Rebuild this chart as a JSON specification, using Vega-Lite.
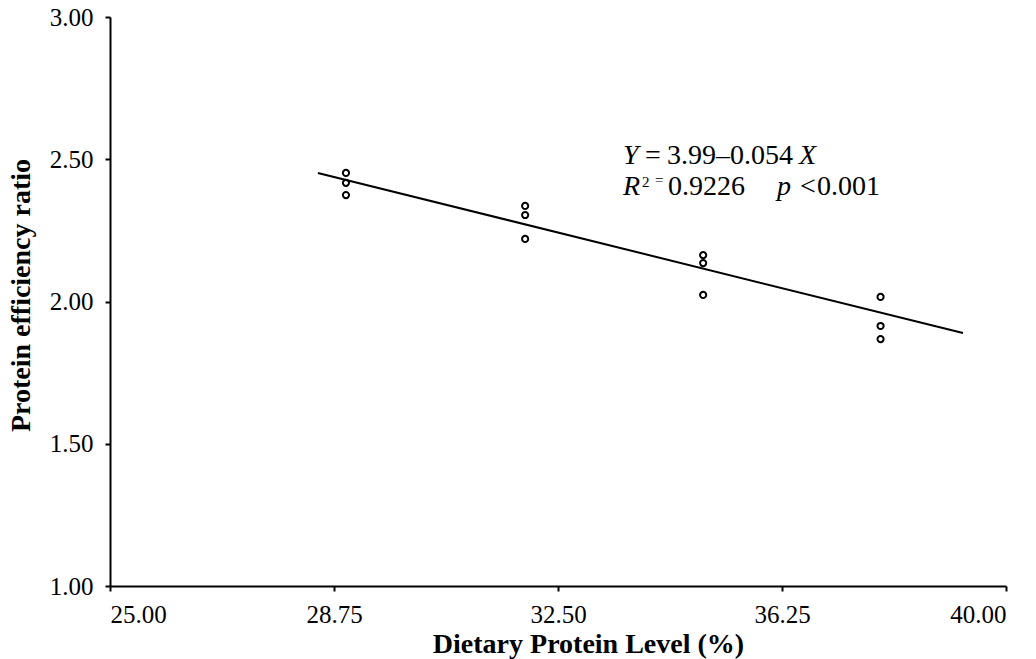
{
  "$schema": "https://vega.github.io/schema/vega-lite/v6.json",
  "autosize": "none",
  "width": 896,
  "height": 569,
  "padding": {"left": 110, "top": 17, "right": 30, "bottom": 73},
  "background": "white",
  "config": {
    "view": {"stroke": null},
    "font": "Liberation Serif",
    "axis": {
      "grid": false,
      "domainColor": "black",
      "domainWidth": 2,
      "tickColor": "black",
      "tickWidth": 2,
      "tickSize": 5,
      "labelFont": "Liberation Serif",
      "labelFontSize": 25,
      "labelColor": "black",
      "titleFont": "Liberation Serif",
      "titleFontSize": 28,
      "titleFontWeight": "bold",
      "titleColor": "black"
    }
  },
  "datasets": {
    "points": [
      {"level": 28.95, "per": 2.452}, {"level": 28.95, "per": 2.417}, {"level": 28.95, "per": 2.374},
      {"level": 31.95, "per": 2.336}, {"level": 31.95, "per": 2.304}, {"level": 31.95, "per": 2.220},
      {"level": 34.93, "per": 2.163}, {"level": 34.93, "per": 2.135}, {"level": 34.93, "per": 2.023},
      {"level": 37.9, "per": 2.016}, {"level": 37.9, "per": 1.914}, {"level": 37.9, "per": 1.868}
    ],
    "fit": [
      {"level": 28.48, "per": 2.452},
      {"level": 39.28, "per": 1.889}
    ],
    "eqItalic": [
      {"level": 33.588, "per": 2.483, "label": "Y"},
      {"level": 36.535, "per": 2.483, "label": "X"},
      {"level": 33.588, "per": 2.374, "label": "R"},
      {"level": 36.166, "per": 2.374, "label": "p"}
    ],
    "eqNormal": [
      {"level": 33.956, "per": 2.483, "label": "="},
      {"level": 34.325, "per": 2.483, "label": "3.99–0.054"},
      {"level": 34.341, "per": 2.374, "label": "0.9226"},
      {"level": 36.551, "per": 2.374, "label": "<"},
      {"level": 36.836, "per": 2.374, "label": "0.001"}
    ],
    "eqSmall": [
      {"level": 33.906, "per": 2.4025, "label": "2"},
      {"level": 34.124, "per": 2.408, "label": "="}
    ]
  },
  "layer": [
    {
      "data": {"name": "fit"},
      "mark": {"type": "line", "color": "black", "strokeWidth": 2},
      "encoding": {
        "x": {"field": "level", "type": "quantitative", "scale": {"domain": [25, 40], "nice": false, "zero": false},
          "axis": {"values": [25, 28.75, 32.5, 36.25, 40], "format": ".2f", "labelPadding": 11, "title": "Dietary Protein Level (%)", "titlePadding": 3, "titleX": 478}},
        "y": {"field": "per", "type": "quantitative", "scale": {"domain": [1, 3], "nice": false, "zero": false},
          "axis": {"values": [1, 1.5, 2, 2.5, 3], "format": ".2f", "labelPadding": 12, "title": "Protein efficiency ratio", "titlePadding": 14, "titleY": 278}}
      }
    },
    {
      "data": {"name": "points"},
      "mark": {"type": "point", "shape": "circle", "filled": false, "color": "black", "opacity": 1, "size": 38, "strokeWidth": 2},
      "encoding": {
        "x": {"field": "level", "type": "quantitative"},
        "y": {"field": "per", "type": "quantitative"}
      }
    },
    {
      "data": {"name": "eqItalic"},
      "mark": {"type": "text", "align": "left", "baseline": "alphabetic", "fontSize": 28, "fontStyle": "italic", "font": "Liberation Serif", "color": "black"},
      "encoding": {
        "x": {"field": "level", "type": "quantitative"},
        "y": {"field": "per", "type": "quantitative"},
        "text": {"field": "label"}
      }
    },
    {
      "data": {"name": "eqNormal"},
      "mark": {"type": "text", "align": "left", "baseline": "alphabetic", "fontSize": 28, "font": "Liberation Serif", "color": "black"},
      "encoding": {
        "x": {"field": "level", "type": "quantitative"},
        "y": {"field": "per", "type": "quantitative"},
        "text": {"field": "label"}
      }
    },
    {
      "data": {"name": "eqSmall"},
      "mark": {"type": "text", "align": "left", "baseline": "alphabetic", "fontSize": 15, "font": "Liberation Serif", "color": "black"},
      "encoding": {
        "x": {"field": "level", "type": "quantitative"},
        "y": {"field": "per", "type": "quantitative"},
        "text": {"field": "label"}
      }
    }
  ]
}
